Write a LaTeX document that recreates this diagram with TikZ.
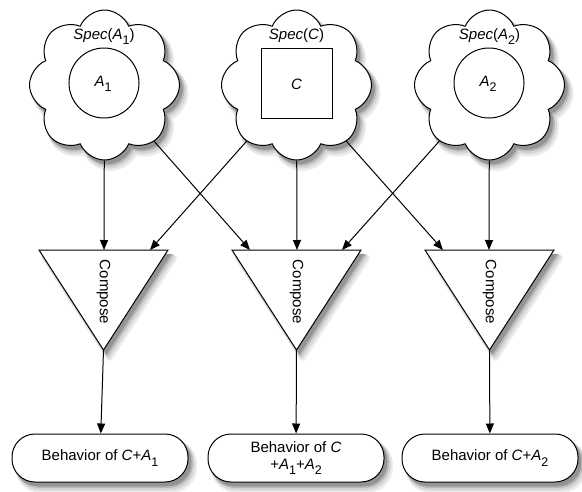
\documentclass[tikz,border=0pt]{standalone}
\usepackage{fontspec}
\setmainfont{Liberation Sans}
\usetikzlibrary{arrows.meta,shapes.symbols,shapes.misc}
\newcommand\lsub[1]{\raisebox{-0.35em}{\fontsize{12.5}{12.5}\selectfont #1}}
\newcommand\shadowset[5]{%
  \path[fill=#3,draw=#3,line width=#4,line join=round]
    (39+#1,250+#2) -- (168+#1,250+#2) -- (103.5+#1,350+#2) -- cycle
    (232+#1,250+#2) -- (361+#1,250+#2) -- (296.5+#1,350+#2) -- cycle
    (425+#1,250+#2) -- (554+#1,250+#2) -- (489.5+#1,350+#2) -- cycle;
  \node[cloudshape,fill=#3,draw=#3,line width=#4] (#5a) at (104.5+#1,85+#2) {};
  \node[cloudshape,fill=#3,draw=#3,line width=#4] (#5b) at (296.5+#1,85+#2) {};
  \node[cloudshape,fill=#3,draw=#3,line width=#4] (#5c) at (489.5+#1,85+#2) {};
  \node[boxshape,fill=#3,draw=#3,line width=#4] (#5d) at (100+#1,458+#2) {};
  \node[boxshape,fill=#3,draw=#3,line width=#4] (#5e) at (296+#1,458+#2) {};
  \node[boxshape,fill=#3,draw=#3,line width=#4] (#5f) at (490+#1,458+#2) {};}
\begin{document}
\begin{tikzpicture}[x=1pt,y=-1pt,line width=1pt,
  font=\fontsize{15}{17}\selectfont,
  cloudshape/.style={cloud,cloud puffs=8,cloud puff arc=135,aspect=1,minimum width=150pt,minimum height=150pt,inner sep=0pt},
  boxshape/.style={rounded corners=23pt,minimum width=176pt,minimum height=48pt,inner sep=0pt},
  cloudbox/.style={cloudshape,draw,fill=white},
  arr/.style={-{Triangle[length=10pt,width=8pt]}},
  outbox/.style={boxshape,draw,fill=white,align=center},
  tri/.style={draw,fill=white,line join=miter}]
\fill[white] (0,0) rectangle (582,491);
\useasboundingbox (0,0) rectangle (582,491);
% soft shadows (layered greys)
\shadowset{6}{8}{black!8}{6pt}{shA}
\shadowset{5}{6.5}{black!16}{4pt}{shB}
\shadowset{4}{5}{black!28}{2pt}{shC}
\shadowset{3}{4}{black!42}{0.5pt}{shD}
% clouds
\node[cloudbox] (s1) at (104.5,85) {};
\node[cloudbox] (s2) at (296.5,85) {};
\node[cloudbox] (s3) at (489.5,85) {};
\node[anchor=base] (s1t) at (104,39.5) {\textit{Spec}(\textit{A}\lsub{1})};
\node[anchor=base] (s2t) at (296.5,39.5) {\textit{Spec}(\textit{C})};
\node[anchor=base] (s3t) at (489.5,39.5) {\textit{Spec}(\textit{A}\lsub{2})};
\node[circle,draw,minimum size=70pt,inner sep=0pt] (a1) at (104,83) {};
\node[anchor=base] (a1t) at (103,86) {\textit{A}\lsub{1}};
\node[draw,minimum width=71pt,minimum height=70pt,inner sep=0pt] (c) at (296.5,83) {};
\node[anchor=base] (ct) at (296.5,89) {\textit{C}};
\node[circle,draw,minimum size=70pt,inner sep=0pt] (a2) at (489,83) {};
\node[anchor=base] (a2t) at (488,86) {\textit{A}\lsub{2}};
% triangles
\path[tri] (39,250) -- (168,250) -- (103.5,350) -- cycle;
\path[tri] (232,250) -- (361,250) -- (296.5,350) -- cycle;
\path[tri] (425,250) -- (554,250) -- (489.5,350) -- cycle;
\coordinate (ap1) at (103.5,350);
\coordinate (ap2) at (296.5,350);
\coordinate (ap3) at (489.5,350);
\node[rotate=-90] (k1) at (103.5,292) {Compose};
\node[rotate=-90] (k2) at (296.5,292) {Compose};
\node[rotate=-90] (k3) at (489.5,292) {Compose};
\coordinate (t1c) at (104,250);
\coordinate (t1r) at (150,250);
\coordinate (t2l) at (250,250);
\coordinate (t2c) at (297,250);
\coordinate (t2r) at (342,250);
\coordinate (t3l) at (443,250);
\coordinate (t3c) at (489,250);
% boxes
\node[outbox] (b1) at (100,458) {\raisebox{2.5pt}{Behavior of \textit{C}+\textit{A}\lsub{1}}};
\node[outbox] (b2) at (296,458) {Behavior of \textit{C}\\+\textit{A}\lsub{1}+\textit{A}\lsub{2}};
\node[outbox] (b3) at (490,458) {\raisebox{2.5pt}{Behavior of \textit{C}+\textit{A}\lsub{2}}};
% connectors
\draw[arr] (s1) -- (t1c);
\draw[arr] (s1) -- (t2l);
\draw[arr] (s2) -- (t1r);
\draw[arr] (s2) -- (t2c);
\draw[arr] (s2) -- (t3l);
\draw[arr] (s3) -- (t2r);
\draw[arr] (s3) -- (t3c);
\draw[arr] (ap1) -- (b1);
\draw[arr] (ap2) -- (b2);
\draw[arr] (ap3) -- (b3);
\end{tikzpicture}
\end{document}
